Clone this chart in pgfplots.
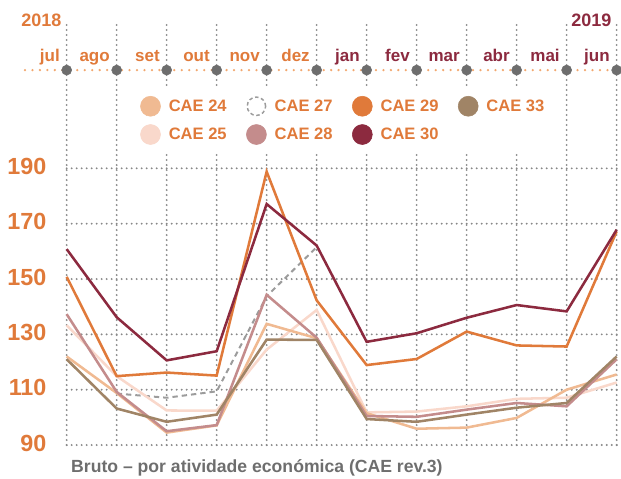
\documentclass[border=0pt]{standalone}
\usepackage{pgfplots}
\pgfplotsset{compat=1.18}
\usepackage{fontspec}
\setmainfont{Liberation Sans}
\definecolor{cA}{HTML}{F0BA92}% CAE 24
\definecolor{cB}{HTML}{F9D8CB}% CAE 25
\definecolor{cC}{HTML}{9C9C9C}% CAE 27
\definecolor{cD}{HTML}{C48C8C}% CAE 28
\definecolor{cE}{HTML}{E07A3A}% CAE 29
\definecolor{cF}{HTML}{8C2A3F}% CAE 30
\definecolor{cG}{HTML}{A08466}% CAE 33
\definecolor{corange}{HTML}{E07A3A}
\definecolor{cred}{HTML}{8C2A3F}
\definecolor{ctitle}{HTML}{6E6E6E}
\definecolor{cgrid}{HTML}{888888}
\definecolor{ctl}{HTML}{F2A870}
\definecolor{cdot}{HTML}{6D6D6D}
\begin{document}
\begin{tikzpicture}
\useasboundingbox (-50.0pt,-24.75pt) rectangle (415.7pt,333.75pt);
\begin{axis}[
  at={(0pt,0pt)}, anchor=south west,
  scale only axis, width=415.7pt, height=315pt,
  xmin=0, xmax=11.087, ymin=90, ymax=241.8,
  clip=false,
  axis line style={draw=none},
  major tick length=0pt,
  xtick={0,...,11},
  xticklabel pos=upper,
  xticklabels={\textcolor{corange}{jul},\textcolor{corange}{ago},\textcolor{corange}{set},\textcolor{corange}{out},\textcolor{corange}{nov},\textcolor{corange}{dez},\textcolor{cred}{jan},\textcolor{cred}{fev},\textcolor{cred}{mar},\textcolor{cred}{abr},\textcolor{cred}{mai},\textcolor{cred}{jun}},
  xticklabel style={anchor=base east, inner sep=0pt, yshift=-27.5pt, xshift=-5pt, font=\fontsize{12.75}{12.75}\selectfont\bfseries},
  ytick={90,110,130,150,170,190},
  /pgf/number format/assume math mode=true,
  yticklabel style={anchor=east, inner sep=0pt, xshift=-15pt, yshift=1.5pt, text=corange, font=\fontsize{17.5}{17.5}\selectfont\bfseries},
  xmajorgrids, ymajorgrids,
  major grid style={cgrid, line width=1.6pt, line cap=round, dash pattern=on 0pt off 3.75pt},
  legend columns=4,
  legend cell align=left,
  legend style={
    at={(0.1178,0.8507)}, anchor=north west,
    draw=none, fill=white, inner sep=6pt,
    nodes={inner sep=0pt, font=\fontsize{12.4}{12.4}\selectfont\bfseries, text=corange},
    /tikz/every odd column/.append style={column sep=6pt},
    /tikz/every even column/.append style={column sep=14.6pt},
    row sep=5.8pt,
  },
]
% timeline
\addplot[ctl, line width=1.9pt, line cap=round, dash pattern=on 0pt off 5.6pt, forget plot]
  coordinates {(-0.834,225.5) (11.087,225.5)};
\addplot[only marks, mark=*, mark size=3.75pt, cdot, forget plot]
  coordinates {(0,225.5)(1,225.5)(2,225.5)(3,225.5)(4,225.5)(5,225.5)(6,225.5)(7,225.5)(8,225.5)(9,225.5)(10,225.5)(11,225.5)};
% CAE 27
\addplot[cC, line width=1.5pt, dash pattern=on 4pt off 3pt, forget plot]
  coordinates {(1,108.6)(2,107.1)(3,109.4)(4,143.8)(5,161.5)};
% CAE 25
\addplot[cB, line width=1.9pt, forget plot]
  coordinates {(0,133.3)(1,114.9)(2,102.5)(3,102.4)(4,124.5)(5,138.8)(6,101.8)(7,102.1)(8,104.0)(9,106.7)(10,107.1)(11,112.6)};
% CAE 24
\addplot[cA, line width=1.9pt, forget plot]
  coordinates {(0,122.0)(1,108.8)(2,94.5)(3,97.1)(4,133.8)(5,128.6)(6,101.5)(7,95.9)(8,96.3)(9,99.8)(10,110.0)(11,115.5)};
% CAE 28
\addplot[cD, line width=1.9pt, forget plot]
  coordinates {(0,137.3)(1,109.2)(2,95.0)(3,97.2)(4,144.3)(5,128.8)(6,100.5)(7,100.2)(8,102.8)(9,105.2)(10,104.0)(11,121.0)};
% CAE 33
\addplot[cG, line width=1.9pt, forget plot]
  coordinates {(0,121.0)(1,103.2)(2,98.4)(3,101.0)(4,128.1)(5,128.0)(6,99.4)(7,98.4)(8,101.0)(9,103.5)(10,105.2)(11,122.0)};
% CAE 29
\addplot[cE, line width=1.9pt, forget plot]
  coordinates {(0,150.8)(1,114.9)(2,116.2)(3,115.1)(4,188.8)(5,142.3)(6,118.9)(7,121.1)(8,131.0)(9,126.0)(10,125.6)(11,167.2)};
% CAE 30
\addplot[cF, line width=1.9pt, forget plot]
  coordinates {(0,160.8)(1,136.2)(2,120.6)(3,123.9)(4,177.1)(5,162.1)(6,127.3)(7,130.4)(8,136.0)(9,140.6)(10,138.3)(11,167.8)};
% legend
\addlegendimage{legend image code/.code={\fill[cA] (7.5pt,0pt) circle (7.5pt);}}
\addlegendentry{CAE 24}
\addlegendimage{legend image code/.code={\draw[cC, line width=1.1pt, dash pattern=on 2.6pt off 2pt] (7.5pt,0pt) circle (6.9pt);}}
\addlegendentry{CAE 27}
\addlegendimage{legend image code/.code={\fill[cE] (7.5pt,0pt) circle (7.5pt);}}
\addlegendentry{CAE 29}
\addlegendimage{legend image code/.code={\fill[cG] (7.5pt,0pt) circle (7.5pt);}}
\addlegendentry{CAE 33}
\addlegendimage{legend image code/.code={\fill[cB] (7.5pt,0pt) circle (7.5pt);}}
\addlegendentry{CAE 25}
\addlegendimage{legend image code/.code={\fill[cD] (7.5pt,0pt) circle (7.5pt);}}
\addlegendentry{CAE 28}
\addlegendimage{legend image code/.code={\fill[cF] (7.5pt,0pt) circle (7.5pt);}}
\addlegendentry{CAE 30}
% texts
\node[anchor=base east, inner sep=0pt, text=corange, font=\fontsize{13.5}{13.5}\selectfont\bfseries] at (axis cs:-0.1,241.4) {2018};
\node[anchor=base east, inner sep=0pt, text=cred, font=\fontsize{13.5}{13.5}\selectfont\bfseries] at (axis cs:10.9,241.4) {2019};
\node[anchor=base west, inner sep=0pt, text=ctitle, font=\fontsize{13.2}{13.2}\selectfont\bfseries] at (axis cs:0.086,80.24) {Bruto – por atividade económica (CAE rev.3)};
\end{axis}
\end{tikzpicture}
\end{document}
